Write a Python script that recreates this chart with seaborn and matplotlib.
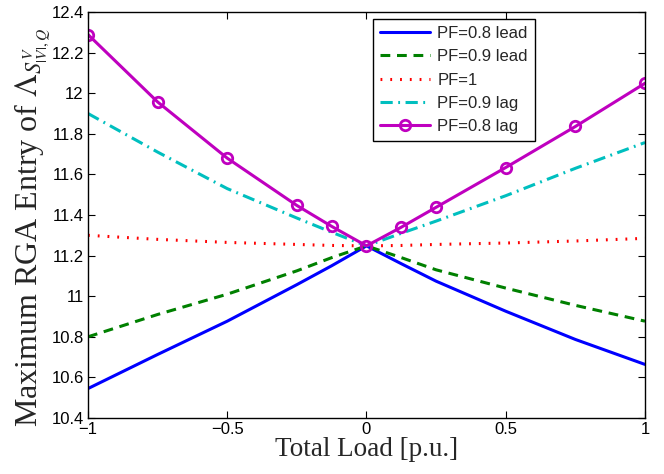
import numpy as np
import pandas as pd
import matplotlib
matplotlib.use("Agg")
import matplotlib.pyplot as plt
import seaborn as sns

load = [-1, -0.75, -0.5, -0.25, -0.125, 0, 0.125, 0.25, 0.5, 0.75, 1]
pf08_lead = [10.545, 10.713, 10.877, 11.057, 11.15, 11.248, 11.16, 11.074, 10.926, 10.787, 10.664]
pf09_lead = [10.80, 10.91, 11.01, 11.125, 11.19, 11.248, 11.19, 11.13, 11.04, 10.955, 10.877]
pf1 = [11.30, 11.28, 11.265, 11.255, 11.25, 11.248, 11.25, 11.255, 11.262, 11.272, 11.285]
pf09_lag = [11.90, 11.71, 11.53, 11.385, 11.315, 11.248, 11.31, 11.37, 11.495, 11.63, 11.757]
pf08_lag = [12.289, 11.957, 11.68, 11.447, 11.344, 11.248, 11.34, 11.438, 11.634, 11.836, 12.049]

series_names = ["PF=0.8 lead", "PF=0.9 lead", "PF=1", "PF=0.9 lag", "PF=0.8 lag"]
series_vals = [pf08_lead, pf09_lead, pf1, pf09_lag, pf08_lag]

xticks = [-1, -0.5, 0, 0.5, 1]
xticklabels = ["\u22121", "\u22120.5", "0", "0.5", "1"]
yticks = [10.4, 10.6, 10.8, 11, 11.2, 11.4, 11.6, 11.8, 12, 12.2, 12.4]
yticklabels = ["10.4", "10.6", "10.8", "11", "11.2", "11.4", "11.6", "11.8", "12", "12.2", "12.4"]

sns.set_style("white")
plt.rcParams["font.family"] = ["Liberation Sans", "DejaVu Sans"]
plt.rcParams["mathtext.fontset"] = "stix"

fig = plt.figure(figsize=(6.64, 4.74), dpi=100)
ax = fig.add_axes([0.1325, 0.1181, 0.9714 - 0.1325, 0.9747 - 0.1181])

styles = [
    dict(color=(0, 0, 1), linestyle="-"),
    dict(color=(0, 0.5, 0), linestyle=(0, (3.2, 2.2))),
    dict(color=(1, 0, 0), linestyle=(0, (0.6, 2.6))),
    dict(color=(0, 0.75, 0.75), linestyle=(0, (4, 1.8, 0.6, 1.8))),
    dict(color=(0.75, 0, 0.75), linestyle="-", marker="o", markersize=7.5,
         markerfacecolor="none", markeredgewidth=2, markeredgecolor=(0.75, 0, 0.75)),
]

for name, vals, st in zip(series_names, series_vals, styles):
    df = pd.DataFrame({"x": load, "y": vals})
    sns.lineplot(data=df, x="x", y="y", ax=ax, label=name, linewidth=2.2, **st)

ax.set_xlim(-1, 1)
ax.set_ylim(10.4, 12.4)
ax.set_xticks(xticks)
ax.set_xticklabels(xticklabels)
ax.set_yticks(yticks)
ax.set_yticklabels(yticklabels)
ax.tick_params(direction="in", length=5, width=0.8, labelsize=12, top=True, right=True,
               bottom=True, left=True, colors="black", pad=3)
for s in ax.spines.values():
    s.set_visible(True)
    s.set_color("black")
    s.set_linewidth(1.0)

ax.set_xlabel("Total Load [p.u.]", fontsize=19.5, family="Liberation Serif", labelpad=0)
ax.set_ylabel(r"Maximum RGA Entry of $\Lambda_{S^{V}_{|V|,Q}}$", fontsize=23,
              family="Liberation Serif")
ax.yaxis.set_label_coords(-0.062, 0.47)

leg = ax.legend(loc="upper left", bbox_to_anchor=(0.512, 0.982), fontsize=12,
                frameon=True, fancybox=False, edgecolor="black", framealpha=1,
                handlelength=3.0, handletextpad=0.45, borderpad=0.4, labelspacing=0.5,
                borderaxespad=0.0)
leg.get_frame().set_linewidth(1.0)

fig.savefig("out.png", dpi=100)
